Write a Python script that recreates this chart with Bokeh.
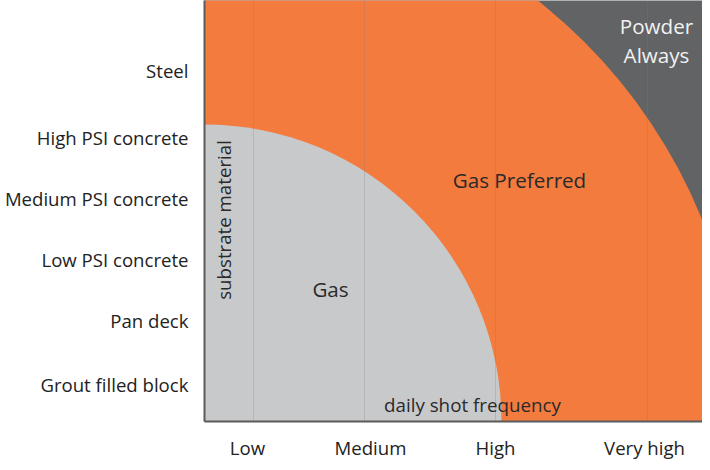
import numpy as np
from bokeh.plotting import figure
from bokeh.models import FixedTicker, Range1d
from bokeh.core.properties import value
from bokeh.embed import file_html
from bokeh.resources import INLINE

# --- data ---
substrates = ["Grout filled block", "Pan deck", "Low PSI concrete",
              "Medium PSI concrete", "High PSI concrete", "Steel"]
substrate_pos = [37, 101, 162, 224, 285, 352]
frequencies = ["Low", "Medium", "High", "Very high"]
frequency_pos = [43, 166, 291, 440]
frequency_grid = [49, 160, 291, 443]
gas_limit = 297        # radius of the "Gas" zone
powder_limit = 537     # radius beyond which "Powder Always"
zone_names = ["Gas", "Gas Preferred", "Powder", "Always"]
zone_x = [126, 315, 452, 452]
zone_y = [133, 242, 396, 367]
zone_colors = ["#2a2a2a", "#2a2a2a", "#f2f2f2", "#f2f2f2"]

ORANGE = "#F37B3E"
GRAY = "#C8C9CB"
DARK = "#626365"
FONT = "Open Sans"

p = figure(width=702, height=462, x_range=Range1d(0, 498), y_range=Range1d(0, 422),
           output_backend="svg", toolbar_location=None,
           min_border_left=204, min_border_right=0, min_border_top=0, min_border_bottom=40)
p.background_fill_color = DARK
p.border_fill_color = "white"
p.outline_line_color = None

p.wedge(x=0, y=0, radius=powder_limit, start_angle=0, end_angle=np.pi / 2,
        fill_color=ORANGE, line_color=None)
p.wedge(x=0, y=0, radius=gas_limit, start_angle=0, end_angle=np.pi / 2,
        fill_color=GRAY, line_color=None)

p.segment(x0=frequency_grid, y0=[0] * len(frequency_grid), x1=frequency_grid,
          y1=[p.y_range.end] * len(frequency_grid), line_color="#7a7a7a", line_alpha=0.25, line_width=1)

p.xgrid.grid_line_color = None
p.ygrid.grid_line_color = None

# axes
p.xaxis.ticker = FixedTicker(ticks=frequency_pos)
p.xaxis.major_label_overrides = {k: v for k, v in zip(frequency_pos, frequencies)}
p.yaxis.ticker = FixedTicker(ticks=substrate_pos)
p.yaxis.major_label_overrides = {k: v for k, v in zip(substrate_pos, substrates)}
for ax in (p.xaxis, p.yaxis):
    ax.major_tick_line_color = None
    ax.minor_tick_line_color = None
    ax.major_tick_out = 0
    ax.major_tick_in = 0
    ax.axis_line_color = "#5a5a5a"
    ax.axis_line_width = 2
    ax.major_label_text_font = FONT
    ax.major_label_text_font_size = "18.6px"
    ax.major_label_text_color = "#222222"
p.xaxis.major_label_standoff = 13
p.yaxis.major_label_standoff = 16

# zone labels
p.text(x=zone_x, y=zone_y, text=zone_names, text_align="center", text_baseline="middle",
       text_font=value(FONT), text_font_size="20.6px", text_color=zone_colors)
p.text(x=[268], y=[17], text=["daily shot frequency"], text_align="center", text_baseline="middle",
       text_font=value(FONT), text_font_size="18.8px", text_color="#2a2a2a")
p.text(x=[19], y=[202], text=["substrate material"], text_align="center", text_baseline="middle",
       angle=np.pi / 2, text_font=value(FONT), text_font_size="18.7px", text_color="#2a2a2a")

open("out.html", "w").write(file_html(p, INLINE))
